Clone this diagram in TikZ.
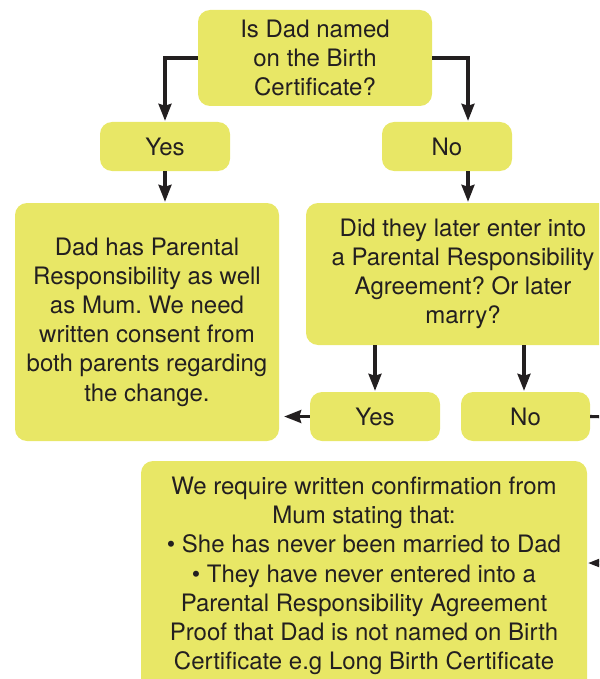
\documentclass[tikz,border=0pt]{standalone}
\usepackage{fontspec}
\setmainfont{TeX Gyre Heros}
\usetikzlibrary{arrows.meta,calc}
\definecolor{boxfill}{RGB}{232,231,102}
\definecolor{ink}{RGB}{35,31,32}
\tikzset{
  box/.style={draw=none, fill=boxfill, rounded corners=12pt, align=center, text=ink,
    font=\fontsize{24}{29.2}\selectfont\frenchspacing, inner sep=0pt},
  conn/.style={draw=ink, line width=3.1pt, -{Stealth[length=17pt,width=13pt,inset=2pt]}}
}
\begin{document}
\begin{tikzpicture}[x=1pt,y=-1pt]
\useasboundingbox (0,0) rectangle (599,679);
\clip (0,0) rectangle (599,679);
\node[box, minimum width=234pt, minimum height=96pt] (top) at (315,58)
  {Is Dad named\\on the Birth\\Certificate?};
\node[box, minimum width=130pt, minimum height=49pt] (yes1) at (165,146.5) {Yes};
\node[box, minimum width=130pt, minimum height=49pt] (no1) at (447,146.5) {No};
\node[box, minimum width=264pt, minimum height=238pt] (left) at (147,322)
  {Dad has Parental\\Responsibility as well\\as Mum. We need\\written consent from\\both parents regarding\\the change.};
\node[box, minimum width=314pt, minimum height=142pt] (right) at (463,274)
  {Did they later enter into\\a Parental Responsibility\\Agreement? Or later\\marry?};
\node[box, minimum width=130pt, minimum height=49pt] (yes2) at (375,416.5) {Yes};
\node[box, minimum width=129pt, minimum height=49pt] (no2) at (525.5,416.5) {No};
\node[box, minimum width=446pt, minimum height=230pt] (bottom) at (364,576)
  {We require written confirmation from\\Mum stating that:\\\textbullet\ She has never been married to Dad\\\textbullet\ They have never entered into a\\Parental Responsibility Agreement\\Proof that Dad is not named on Birth\\Certificate e.g Long Birth Certificate};
\coordinate (turn) at (612,417);
\coordinate (nbtop) at ([xshift=21pt,yshift=1pt]no1.north);
\coordinate (nbbot) at ([xshift=21pt]no1.south);
\coordinate (nbend) at ([yshift=1pt]nbbot |- right.north);
\draw[conn] (top.west) -| ([yshift=1pt]yes1.north);
\draw[conn] (top.east) -| (nbtop);
\draw[conn] (yes1.south) -- ([yshift=1pt]yes1.south |- left.north);
\draw[conn] (nbbot) -- (nbend);
\draw[conn] (yes2.north |- right.south) -- ([yshift=1pt]yes2.north);
\draw[conn] ([xshift=-1.5pt]no2.north |- right.south) -- ([xshift=-1.5pt,yshift=1pt]no2.north);
\draw[conn] (yes2.west) -- ([xshift=5pt]yes2.west -| left.east);
\draw[conn] (no2.east) -- (turn) |- ([yshift=13pt,xshift=1pt]bottom.east);
\end{tikzpicture}
\end{document}
